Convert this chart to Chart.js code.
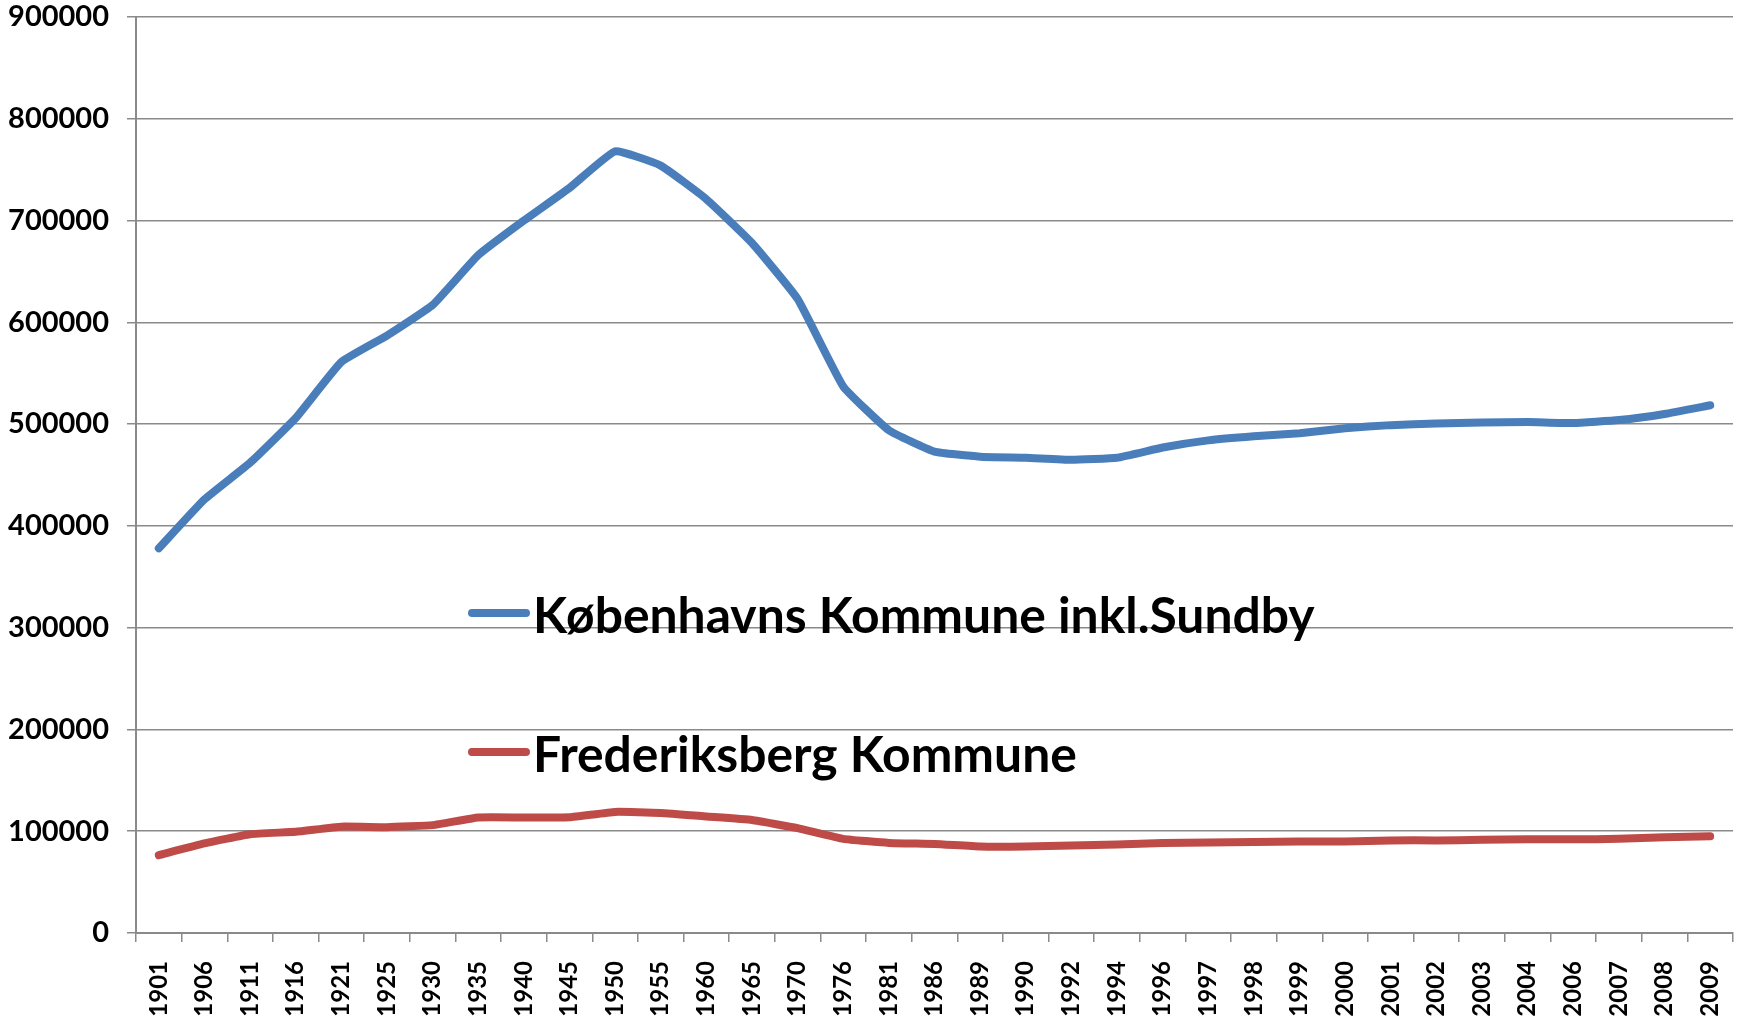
<!DOCTYPE html>
<html>
<head>
<meta charset="utf-8">
<script src="https://cdn.jsdelivr.net/npm/chart.js@4/dist/chart.umd.min.js"></script>
<style>
  html, body { margin: 0; padding: 0; background: #fff; }
  #wrap { width: 1742px; height: 1022px; }
</style>
</head>
<body>
<div id="wrap"><canvas id="chart" width="1742" height="1022"></canvas></div>
<script>
// Befolkning, København og Frederiksberg 1901-2009
const years = ['1901', '1906', '1911', '1916', '1921', '1925', '1930', '1935', '1940', '1945',
    '1950', '1955', '1960', '1965', '1970', '1976', '1981', '1986', '1989', '1990',
    '1992', '1994', '1996', '1997', '1998', '1999', '2000', '2001', '2002', '2003',
    '2004', '2006', '2007', '2008', '2009'];

const kobenhavn = [378000, 426000, 462000, 506000, 561000, 587000, 617000, 666000, 700000, 732000,
    768000, 754000, 721000, 678000, 623000, 537000, 494000, 473000, 468000, 467000,
    465000, 467000, 477000, 484000, 488000, 491000, 496000, 499000, 500500, 501500,
    502000, 501000, 504000, 510000, 518500];

const frederiksberg = [76500, 88000, 97000, 99500, 104500, 104000, 106000, 113500, 113500, 113800,
    119000, 118000, 114500, 111000, 103000, 92500, 88500, 87500, 85000, 85000,
    86000, 87000, 88500, 89000, 89500, 90000, 90000, 91000, 91000, 91500,
    92000, 92000, 92500, 94000, 95000];

const seriesNames = ['Københavns Kommune inkl.Sundby', 'Frederiksberg Kommune'];
const seriesColors = ['#4A7EBB', '#BE4B48'];
const yTicks = [0, 100000, 200000, 300000, 400000, 500000, 600000, 700000, 800000, 900000];

const GRID = '#8a8a8a';
const FONT = 'Lato, "Open Sans", sans-serif';

// legend sits inside the plot, like the original spreadsheet chart
const inlineLegend = {
    id: 'inlineLegend',
    afterDraw(chart) {
        const ctx = chart.ctx;
        const rows = [{ y: 613 }, { y: 752 }];
        const lineX0 = 472, lineX1 = 526, textX = 533, targetW = 781;
        ctx.save();
        ctx.font = 'bold 50px ' + FONT;
        const size = 50 * targetW / ctx.measureText(seriesNames[0]).width;
        ctx.font = 'bold ' + size.toFixed(1) + 'px ' + FONT;
        ctx.textBaseline = 'middle';
        ctx.textAlign = 'left';
        rows.forEach((r, i) => {
            ctx.strokeStyle = seriesColors[i];
            ctx.lineWidth = 8;
            ctx.lineCap = 'round';
            ctx.beginPath();
            ctx.moveTo(lineX0, r.y);
            ctx.lineTo(lineX1, r.y);
            ctx.stroke();
            ctx.fillStyle = '#000';
            ctx.fillText(seriesNames[i], textX, r.y + 4);
        });
        ctx.restore();
    }
};

new Chart(document.getElementById('chart'), {
    type: 'line',
    data: {
        labels: years,
        datasets: [
            { label: seriesNames[0], data: kobenhavn, borderColor: seriesColors[0], backgroundColor: seriesColors[0] },
            { label: seriesNames[1], data: frederiksberg, borderColor: seriesColors[1], backgroundColor: seriesColors[1] }
        ].map(d => Object.assign(d, {
            borderWidth: 8, pointRadius: 0, tension: 0.12, borderCapStyle: 'round', borderJoinStyle: 'round'
        }))
    },
    options: {
        responsive: false,
        animation: false,
        layout: { padding: { top: 17, right: 9, left: 0, bottom: 0 } },
        plugins: { legend: { display: false }, tooltip: { enabled: false } },
        scales: {
            x: {
                offset: true,
                grid: { offset: true, drawOnChartArea: false, color: GRID, lineWidth: 1.5, tickLength: 9 },
                border: { color: GRID, width: 2 },
                ticks: {
                    autoSkip: false, maxRotation: 90, minRotation: 90, padding: 19,
                    color: '#000', font: { family: FONT, weight: 'bold', size: 24 }
                },
                afterFit(s) { s.height = 1022 - 933; s.paddingLeft = 0; s.paddingRight = 0; }
            },
            y: {
                min: 0, max: 900000,
                afterBuildTicks(s) { s.ticks = yTicks.map(v => ({ value: v })); },
                grid: { color: GRID, lineWidth: 1.5, tickLength: 9 },
                border: { color: GRID, width: 2 },
                ticks: {
                    padding: 18, color: '#000',
                    font: { family: FONT, weight: 'bold', size: 29 },
                    callback: v => String(v)
                },
                afterFit(s) { s.width = 136; s.paddingTop = 0; s.paddingBottom = 0; }
            }
        }
    },
    plugins: [inlineLegend]
});
</script>
</body>
</html>
